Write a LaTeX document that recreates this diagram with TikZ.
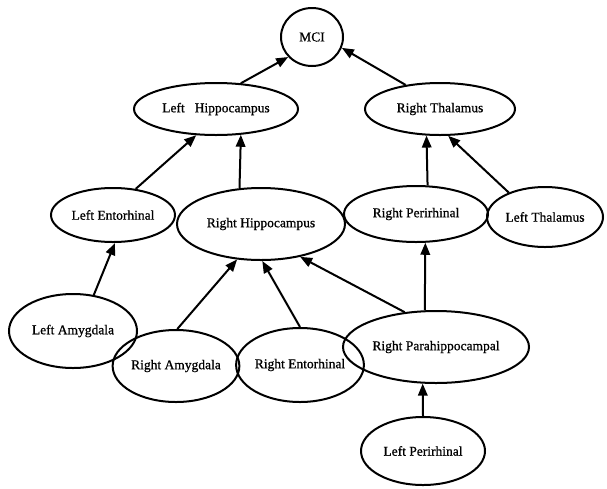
\documentclass[tikz,border=0pt]{standalone}
\usepackage{fontspec}
\setmainfont{Liberation Serif}
\newfontfamily\scanfont[FakeBold=0.8]{Liberation Serif}
\usetikzlibrary{shapes.geometric,arrows.meta}
\tikzset{
  region/.style n args={2}{ellipse, draw, line width=2pt, inner sep=0pt,
    minimum width=#1pt, minimum height=#2pt,
    font=\scanfont\fontsize{13.5}{15}\selectfont},
  link/.style={line width=2pt, -{Triangle[length=12pt,width=9.5pt]}}
}
\begin{document}
\begin{tikzpicture}[x=1pt,y=-1pt]
\useasboundingbox (0,0) rectangle (607,488);
% nodes
\node[region={62}{58}]  (mci) at (312,37)  {\raisebox{-2pt}{MCI}};
\node[region={164}{52}] (lh)  at (216,109) {Left\hspace{10pt}Hippocampus};
\node[region={150}{52}] (rt)  at (440,109) {Right Thalamus};
\node[region={124}{54}] (le)  at (113,215) {Left Entorhinal};
\node[region={168}{72}] (rh)  at (261,224) {Right Hippocampus};
\node[region={144}{56}] (rp)  at (416,214) {Right Perirhinal};
\node[region={116}{60}] (lt)  at (545,217) {Left Thalamus};
\node[region={128}{74}] (la)  at (73,331)  {Left Amygdala};
\node[region={126}{72}] (ra)  at (176,366) {Right Amygdala};
\node[region={124}{74}] (re)  at (300,365) {Right Entorhinal};
\node[region={186}{72}] (rph) at (436,347) {Right Parahippocampal};
\node[region={124}{68}] (lp)  at (423,451) {Left Perirhinal};
% connectors (anchor angles are measured counter-clockwise, up positive)
\draw[link] (lh.46)   -- (mci.220);
\draw[link] (rt.145)  -- (mci.340);
\draw[link] (le.49)   -- (lh.233);
\draw[link] (rh.121)  -- (lh.314);
\draw[link] (rp.68)   -- (rt.243);
\draw[link] (lt.146)  -- (rt.287);
\draw[link] (la.60)   -- (le.274);
\draw[link] (ra.88)   -- (rh.236);
\draw[link] (re.90)   -- (rh.272);
\draw[link] (rph.132) -- (rh.320);
\draw[link] (rph.107) -- (rp.288);
\draw[link] (lp.90)   -- (rph.250);
\end{tikzpicture}
\end{document}
